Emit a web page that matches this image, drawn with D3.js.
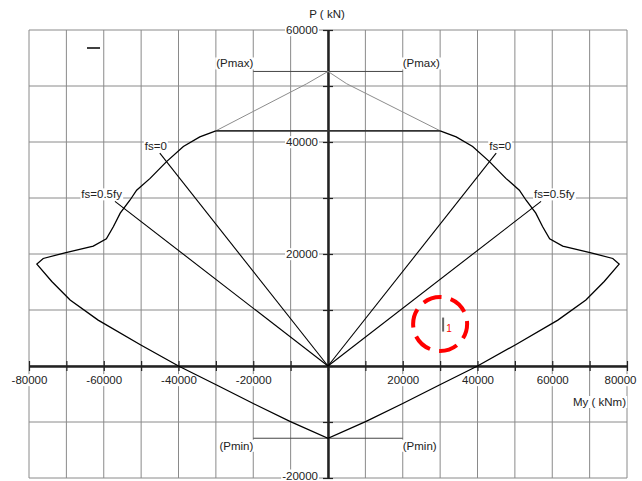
<!DOCTYPE html>
<html lang="en">
<head>
<meta charset="UTF-8" />
<title>P-M Interaction Diagram</title>
<script src="https://d3js.org/d3.v7.min.js"></script>
<style>
    body { margin: 0; background: #fff; overflow: hidden; }
    svg { display: block; font-family: "Liberation Sans", Arial, sans-serif; }
    text { font-size: 11.5px; fill: #222; }
</style>
</head>
<body>
<script>
// interaction curve (My in kNm, P in kN), left branch down, then right branch up
const curveM = [-30000, -34300, -38700, -43200, -47600, -51200, -53000, -55600, -57400, -59300,
    -62800, -70400, -76200, -77900, -73900, -69000, -61500, -50200, -40000, -29800, -20000, -10200,
    0, 10200, 20000, 29800, 40000, 50200, 61500, 69000, 73900, 77900, 76200, 70400, 62800,
    59300, 57400, 55600, 53000, 51200, 47600, 43200, 38700, 34300, 30000];
const curveP = [42000, 40900, 39200, 36500, 33500, 31400, 29600, 27300, 24900, 22700,
    21400, 20200, 19200, 18200, 15100, 11800, 8200, 3800, 0, -3400, -6700, -9900,
    -12900, -9900, -6700, -3400, 0, 3800, 8200, 11800, 15100, 18200, 19200, 20200, 21400,
    22700, 24900, 27300, 29600, 31400, 33500, 36500, 39200, 40900, 42000];

// upper (capped) part of the curve, drawn grey
const capM = [-30000, -5700, 0, 5000, 30000];
const capP = [42000, 50400, 52600, 50400, 42000];
const capLimit = 42000;

const pMax = 52600;
const pMin = -12900;
const pLabelM = 20000;

// strain lines from the origin
const fsLabels = ['fs=0', 'fs=0.5fy', 'fs=0', 'fs=0.5fy'];
const fsM = [-45000, -57000, 45000, 57000];
const fsP = [38000, 29400, 38000, 29400];

// load point
const loadM = 30000;
const loadP = 7400;
const loadLabel = '1';

const xLabelTicks = [-80000, -60000, -40000, -20000, 20000, 40000, 60000, 80000];
const yLabelTicks = [60000, 40000, 20000, -20000];

const width = 642, height = 481;
const svg = d3.select('body').append('svg').attr('width', width).attr('height', height);

const x = d3.scaleLinear().domain([-80000, 80000]).range([29, 627]);
const y = d3.scaleLinear().domain([-20000, 60000]).range([478, 30]);

// grid
const grid = svg.append('g').attr('stroke', '#8a8a8a').attr('stroke-width', 1);
grid.selectAll('line.v').data(d3.range(-80000, 80001, 10000)).join('line')
    .attr('x1', d => x(d)).attr('x2', d => x(d)).attr('y1', y(60000)).attr('y2', y(-20000));
grid.selectAll('line.h').data(d3.range(-20000, 60001, 10000)).join('line').attr('class', 'h')
    .attr('x1', x(-80000)).attr('x2', x(80000)).attr('y1', d => y(d)).attr('y2', d => y(d));

// white box behind a text
function backBox(sel) {
    sel.each(function () {
        const b = this.getBBox();
        d3.select(this.parentNode).insert('rect', () => this)
            .attr('x', b.x - 1).attr('y', b.y).attr('width', b.width + 2).attr('height', b.height)
            .attr('fill', '#fff');
    });
}

// axes
const xAxis = svg.append('g').attr('transform', `translate(0,${y(0)})`)
    .call(d3.axisBottom(x).tickValues(d3.range(-80000, 80001, 10000)).tickSize(5).tickSizeOuter(0)
        .tickPadding(5).tickFormat(d => xLabelTicks.includes(d) ? d : ''));
svg.append('g').attr('transform', `translate(0,${y(0)})`)
    .call(d3.axisTop(x).tickValues(d3.range(-80000, 80001, 10000)).tickSize(5).tickSizeOuter(0).tickFormat(''));

const yAxis = svg.append('g').attr('transform', `translate(${x(0)},0)`)
    .call(d3.axisLeft(y).tickValues(d3.range(-20000, 60001, 10000)).tickSize(5).tickSizeOuter(0)
        .tickPadding(5).tickFormat(d => yLabelTicks.includes(d) ? d : ''));
svg.append('g').attr('transform', `translate(${x(0)},0)`)
    .call(d3.axisRight(y).tickValues(d3.range(-20000, 60001, 10000)).tickSize(5).tickSizeOuter(0).tickFormat(''));

svg.selectAll('.domain').attr('stroke', '#222').attr('stroke-width', 2);
svg.selectAll('.tick line').attr('stroke', '#222').attr('stroke-width', 1.2);
svg.selectAll('.tick text').attr('font-size', null).attr('fill', '#222').attr('font-family', null);
svg.selectAll('g[font-family]').attr('font-family', null).attr('font-size', null);

// keep the outer labels inside the picture
xAxis.selectAll('.tick text').each(function () {
    const b = this.getBBox();
    const gx = x(+d3.select(this.parentNode).datum());
    if (gx + b.x + b.width > width - 6) d3.select(this).attr('x', width - 6 - gx - b.width / 2);
});
yAxis.selectAll('.tick text').each(function () {
    const b = this.getBBox();
    const gy = y(+d3.select(this.parentNode).datum());
    if (gy + b.y + b.height > height) d3.select(this).attr('y', height - gy - b.height - b.y);
});
backBox(xAxis.selectAll('.tick text').filter(function () { return this.textContent !== ''; }));
backBox(yAxis.selectAll('.tick text').filter(function () { return this.textContent !== ''; }));

svg.append('text').attr('x', 327).attr('y', 14).attr('dy', '0.35em').attr('text-anchor', 'middle').text('P ( kN)');
backBox(svg.append('text').attr('x', 626).attr('y', 402).attr('dy', '0.35em').attr('text-anchor', 'end').text('My ( kNm)'));

// Pmax / Pmin leaders
const pLines = [
    { m: -pLabelM, p: pMax, anchor: 'end', dy: -8 },
    { m: pLabelM, p: pMax, anchor: 'start', dy: -8 },
    { m: -pLabelM, p: pMin, anchor: 'end', dy: 7.5 },
    { m: pLabelM, p: pMin, anchor: 'start', dy: 7.5 }
];
pLines.forEach(d => {
    svg.append('line').attr('x1', x(0)).attr('x2', x(d.m)).attr('y1', y(d.p)).attr('y2', y(d.p))
        .attr('stroke', '#444').attr('stroke-width', 1);
    backBox(svg.append('text').attr('x', x(d.m)).attr('y', y(d.p) + d.dy).attr('dy', '0.35em')
        .attr('text-anchor', d.anchor).text(d.p === pMax ? '(Pmax)' : '(Pmin)'));
});

// grey capped top
svg.append('path').datum(d3.zip(capM, capP))
    .attr('d', d3.line().x(d => x(d[0])).y(d => y(d[1])))
    .attr('fill', 'none').attr('stroke', '#8c8c8c').attr('stroke-width', 1);
svg.append('line').attr('x1', x(-30000)).attr('x2', x(30000)).attr('y1', y(capLimit)).attr('y2', y(capLimit))
    .attr('stroke', '#333').attr('stroke-width', 1.8);

// strain lines
fsLabels.forEach((t, i) => {
    svg.append('line').attr('x1', x(0)).attr('y1', y(0)).attr('x2', x(fsM[i])).attr('y2', y(fsP[i]))
        .attr('stroke', '#000').attr('stroke-width', 1.1);
    const left = fsM[i] < 0;
    backBox(svg.append('text').attr('x', x(fsM[i]) + (left ? 7 : -7)).attr('y', y(fsP[i]) - 7)
        .attr('dy', '0.35em').attr('text-anchor', left ? 'end' : 'start').text(t));
});

// interaction curve
svg.append('path').datum(d3.zip(curveM, curveP))
    .attr('d', d3.line().x(d => x(d[0])).y(d => y(d[1])))
    .attr('fill', 'none').attr('stroke', '#000').attr('stroke-width', 1.3);

// legend dash
svg.append('line').attr('x1', 87).attr('x2', 100).attr('y1', 48).attr('y2', 48)
    .attr('stroke', '#000').attr('stroke-width', 1.5);

// load point with red dashed ring
svg.append('line').attr('x1', x(loadM) + 3).attr('x2', x(loadM) + 3)
    .attr('y1', y(loadP) - 7).attr('y2', y(loadP) + 7)
    .attr('stroke', '#666').attr('stroke-width', 2);
svg.append('text').attr('x', x(loadM) + 6).attr('y', y(loadP) + 4).attr('dy', '0.35em')
    .attr('fill', '#f00').style('fill', '#f00').style('font-size', '10px').text(loadLabel);
svg.append('circle').attr('cx', x(loadM)).attr('cy', y(7500)).attr('r', 27)
    .attr('fill', 'none').attr('stroke', '#f00').attr('stroke-width', 4)
    .attr('stroke-dasharray', '19,9.3').attr('stroke-dashoffset', 4);
</script>
</body>
</html>
